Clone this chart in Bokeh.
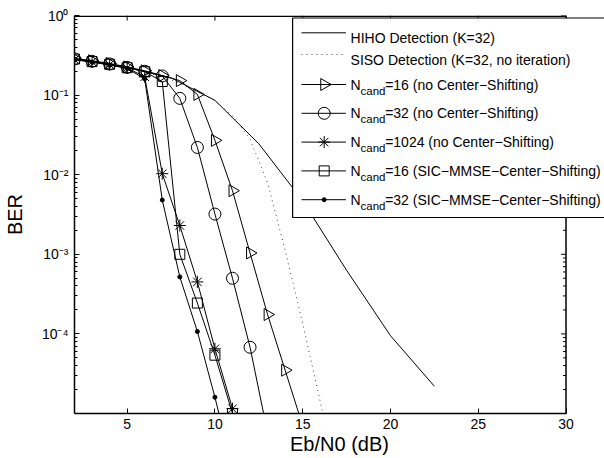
import math
from bokeh.plotting import figure
from bokeh.models import FixedTicker, CustomJSTickFormatter, BoxAnnotation, Label
from bokeh.embed import file_html
from bokeh.resources import INLINE

# ---------------- data ----------------
ebn0_hiho = [2.5, 5, 7.5, 10, 12.5, 15, 17.5, 20, 22.5]
ber_hiho = [0.275, 0.222, 0.165, 0.086, 0.0245, 0.0047, 6.3e-4, 9.5e-5, 2.2e-5]

ebn0_siso = [2, 3, 4, 5, 6, 7, 8, 9, 10, 11, 12, 13, 14, 15, 16, 17]
ber_siso = [0.28, 0.26, 0.24, 0.22, 0.195, 0.17, 0.14, 0.11, 0.085, 0.055,
            0.028, 0.0079, 1.12e-3, 1.35e-4, 1.41e-5, 1.4e-6]

ebn0_n16 = [2, 3, 4, 5, 6, 7, 8, 9, 10, 11, 12, 13, 14, 15]
ber_n16 = [0.29, 0.27, 0.25, 0.226, 0.202, 0.176, 0.152, 0.102, 0.027, 0.0063,
           1.04e-3, 1.75e-4, 3.5e-5, 7e-6]

ebn0_n32 = [2, 3, 4, 5, 6, 7, 8, 9, 10, 11, 12, 13]
ber_n32 = [0.285, 0.266, 0.246, 0.223, 0.199, 0.174, 0.091, 0.022, 0.0032,
           5.0e-4, 6.8e-5, 5.7e-6]

ebn0_n1024 = [2, 3, 4, 5, 6, 7, 8, 9, 10, 11]
ber_n1024 = [0.28, 0.262, 0.242, 0.219, 0.17, 0.0103, 2.3e-3, 4.5e-4, 6.5e-5, 1.15e-5]

ebn0_cs16 = [2, 3, 4, 5, 6, 7, 8, 9, 10, 11]
ber_cs16 = [0.284, 0.264, 0.244, 0.221, 0.197, 0.148, 1.0e-3, 2.44e-4, 5.4e-5, 1.0e-5]

ebn0_cs32 = [2, 3, 4, 5, 6, 7, 8, 9, 10, 11]
ber_cs32 = [0.279, 0.259, 0.239, 0.216, 0.16, 0.0048, 5.2e-4, 1.07e-4, 1.6e-5, 2.0e-6]

x_ticks = [5, 10, 15, 20, 25, 30]
y_ticks = [1e-4, 1e-3, 1e-2, 1e-1, 1]

legend_plain = ["HIHO Detection (K=32)", "SISO Detection (K=32, no iteration)"]
legend_ncand = ["=16 (no Center\u2212Shifting)", "=32 (no Center\u2212Shifting)",
                "=1024 (no Center\u2212Shifting)", "=16 (SIC\u2212MMSE\u2212Center\u2212Shifting)",
                "=32 (SIC\u2212MMSE\u2212Center\u2212Shifting)"]

# ---------------- layout ----------------
X_START, X_END = 2, 30          # axis box
Y_START, Y_END = 1e-5, 1
W, H = 604, 458
AX_L, AX_R, AX_T, AX_B = 67, 565, 15, 413   # axis box in canvas px
FONT = "Liberation Sans"

# the plotting frame runs on to the right canvas edge so the legend can overhang
PX_PER_DB = (AX_R - AX_L) / (X_END - X_START)
X_FRAME_END = X_END + (W - AX_R) / PX_PER_DB

def xd(px):
    return X_START + (px - AX_L) / PX_PER_DB
def yd(py):
    lo, hi = math.log10(Y_START), math.log10(Y_END)
    return 10 ** (hi - (py - AX_T) * (hi - lo) / (AX_B - AX_T))

p = figure(width=W, height=H, x_range=(X_START, X_FRAME_END), y_range=(Y_START, Y_END),
           y_axis_type="log", output_backend="svg", toolbar_location=None,
           min_border_left=AX_L, min_border_right=0, min_border_top=AX_T,
           min_border_bottom=H - AX_B, background_fill_color="white",
           border_fill_color="white")
p.xgrid.visible = False
p.ygrid.visible = False
p.outline_line_color = None

sup_fmt = CustomJSTickFormatter(code=r"""
const e = Math.round(Math.log10(tick));
const m = {'0':'\u2070','1':'\u00B9','2':'\u00B2','3':'\u00B3','4':'\u2074','5':'\u2075',
           '6':'\u2076','7':'\u2077','8':'\u2078','9':'\u2079','-':'\u207B'};
return '10' + String(e).split('').map(c => m[c]).join('');
""")

minor_y = [m * 10 ** e for e in range(-5, 0) for m in range(2, 10)]

def style_axis(ax):
    ax.axis_line_color = "black"
    ax.axis_line_width = 1.5
    ax.major_tick_in = 5
    ax.major_tick_out = 0
    ax.minor_tick_in = 3
    ax.minor_tick_out = 0
    ax.major_tick_line_color = "black"
    ax.minor_tick_line_color = "black"
    ax.major_label_text_font = FONT
    ax.major_label_text_font_size = "14px"
    ax.major_label_text_color = "black"
    ax.axis_label_text_font = FONT
    ax.axis_label_text_font_style = "normal"
    ax.axis_label_text_font_size = "20px"
    ax.axis_label_text_color = "black"

xa = p.xaxis[0]
xa.ticker = FixedTicker(ticks=x_ticks)
xa.bounds = (X_START, X_END)
style_axis(xa)
xa.axis_label = "Eb/N0 (dB)"
xa.major_label_standoff = 5
xa.axis_label_standoff = 1

ya = p.yaxis[0]
ya.ticker = FixedTicker(ticks=y_ticks, minor_ticks=minor_y)
ya.formatter = sup_fmt
style_axis(ya)
ya.axis_label = "BER"
ya.major_label_standoff = 6
ya.axis_label_standoff = 13

# top and right edges of the axis box with inward ticks
p.line([X_START, X_END], [yd(AX_T + 0.75)] * 2, line_color="black", line_width=1.5)
p.line([X_END, X_END], [Y_START, Y_END], line_color="black", line_width=1.5)
top_len = yd(AX_T + 5)
p.segment(x0=x_ticks, y0=[Y_END] * len(x_ticks), x1=x_ticks,
          y1=[top_len] * len(x_ticks), line_color="black", line_width=1)
rx_major = xd(AX_R - 5)
rx_minor = xd(AX_R - 3)
p.segment(x0=[X_END] * len(y_ticks), y0=y_ticks, x1=[rx_major] * len(y_ticks),
          y1=y_ticks, line_color="black", line_width=1)
p.segment(x0=[X_END] * len(minor_y), y0=minor_y, x1=[rx_minor] * len(minor_y),
          y1=minor_y, line_color="black", line_width=1)

# ---------------- curves ----------------
LW = 1
p.line(ebn0_hiho, ber_hiho, line_color="black", line_width=LW)
p.line(ebn0_siso, ber_siso, line_color="#444444", line_width=1, line_dash="1 4")

curves = [
    (ebn0_n16, ber_n16, dict(marker="triangle", size=12, angle=-math.pi / 2)),
    (ebn0_n32, ber_n32, dict(marker="circle", size=12)),
    (ebn0_n1024, ber_n1024, dict(marker="asterisk", size=12)),
    (ebn0_cs16, ber_cs16, dict(marker="square", size=10)),
]
for xs, ys, mk in curves:
    p.line(xs, ys, line_color="black", line_width=LW)
    p.scatter(xs, ys, line_color="black", fill_alpha=0, line_width=1, **mk)
p.line(ebn0_cs32, ber_cs32, line_color="black", line_width=LW)
p.scatter(ebn0_cs32, ber_cs32, marker="circle", size=4, line_color="black",
          fill_color="black")

# ---------------- legend (hand drawn) ----------------
box = BoxAnnotation(left=xd(288), right=xd(W + 10), top=yd(17.5), bottom=yd(217),
                    fill_color="white", fill_alpha=1, line_color="black",
                    line_width=1.2, line_alpha=1)
p.add_layout(box)

SX0, SX1, SXM, TX = 297, 342, 320, 346.7
plain_rows = [32.3, 54.0]
ncand_rows = [84.0, 112.8, 141.6, 170.4, 199.2]

for label, py, dash, col in zip(legend_plain, plain_rows, ["solid", "1 4"], ["black", "#444444"]):
    r = p.line([xd(SX0), xd(SX1)], [yd(py), yd(py)], line_color=col, line_width=1,
               line_dash=dash)
    r.level = "overlay"
    p.add_layout(Label(x=xd(TX), y=yd(py + 5), text=label, text_font=FONT,
                       text_font_size="14px", text_color="black",
                       text_baseline="alphabetic", text_align="left"))

markers = [dict(marker="triangle", size=12, angle=-math.pi / 2, fill_alpha=0),
           dict(marker="circle", size=12, fill_alpha=0),
           dict(marker="asterisk", size=12, fill_alpha=0),
           dict(marker="square", size=10, fill_alpha=0),
           dict(marker="circle", size=4, fill_color="black")]
N_W = 0.722 * 14
CAND_W = 2.168 * 11.5
for label, py, mk in zip(legend_ncand, ncand_rows, markers):
    r = p.line([xd(SX0), xd(SX1)], [yd(py), yd(py)], line_color="black", line_width=1)
    r.level = "overlay"
    s = p.scatter([xd(SXM)], [yd(py)], line_color="black", **mk)
    s.level = "overlay"
    p.add_layout(Label(x=xd(TX), y=yd(py), text="N", text_font=FONT,
                       text_font_size="14px", text_color="black",
                       text_baseline="alphabetic", text_align="left"))
    p.add_layout(Label(x=xd(TX + N_W), y=yd(py + 6), text="cand", text_font=FONT,
                       text_font_size="11.5px", text_color="black",
                       text_baseline="alphabetic", text_align="left"))
    p.add_layout(Label(x=xd(TX + N_W + CAND_W), y=yd(py), text=label, text_font=FONT,
                       text_font_size="14px", text_color="black",
                       text_baseline="alphabetic", text_align="left"))

open("out.html", "w", encoding="utf-8").write(file_html(p, INLINE))
